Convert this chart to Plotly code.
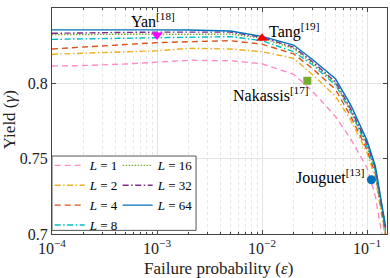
import math
import plotly.graph_objects as go

eps = [1e-4, 2e-4, 5e-4, 1e-3, 2e-3, 5e-3, 1e-2, 2e-2, 3e-2, 5e-2, 7e-2, 0.1, 0.12, 0.15]
y_L1  = [0.8115, 0.8118, 0.8128, 0.8143, 0.8153, 0.8150, 0.8130, 0.8060, 0.7950, 0.7780, 0.7630, 0.7440, 0.7250, 0.6850]
y_L2  = [0.8193, 0.8200, 0.8208, 0.8216, 0.8232, 0.8228, 0.8210, 0.8166, 0.8060, 0.7915, 0.7755, 0.7540, 0.7370, 0.6970]
y_L4  = [0.8228, 0.8240, 0.8255, 0.8270, 0.8276, 0.8283, 0.8260, 0.8195, 0.8100, 0.7960, 0.7780, 0.7560, 0.7400, 0.7000]
y_L8  = [0.8292, 0.8296, 0.8300, 0.8305, 0.8305, 0.8310, 0.8283, 0.8210, 0.8125, 0.7990, 0.7810, 0.7580, 0.7420, 0.7020]
y_L16 = [0.8323, 0.8325, 0.8326, 0.8327, 0.8325, 0.8327, 0.8300, 0.8230, 0.8135, 0.8000, 0.7820, 0.7590, 0.7430, 0.7030]
y_L32 = [0.8332, 0.8336, 0.8338, 0.8340, 0.8340, 0.8340, 0.8305, 0.8240, 0.8145, 0.8010, 0.7830, 0.7600, 0.7440, 0.7040]
y_L64 = [0.8355, 0.8356, 0.8356, 0.8355, 0.8354, 0.8347, 0.8312, 0.8254, 0.8160, 0.8030, 0.7856, 0.7620, 0.7450, 0.7050]

series = [
    ("L1", "<i>L</i> = 1", y_L1, "#FF8CC6", "6px,4px", "legend"),
    ("L2", "<i>L</i> = 2", y_L2, "#EDB120", "6px,2.5px,1.5px,2.5px", "legend"),
    ("L4", "<i>L</i> = 4", y_L4, "#D95319", "6px,4px", "legend"),
    ("L8", "<i>L</i> = 8", y_L8, "#00BFC4", "6px,2.5px,1.5px,2.5px", "legend"),
    ("L16", "<i>L</i> = 16", y_L16, "#77AC30", "1.5px,1.5px", "legend2"),
    ("L32", "<i>L</i> = 32", y_L32, "#7E2F8E", "6px,2.5px,1.5px,2.5px", "legend2"),
    ("L64", "<i>L</i> = 64", y_L64, "#0072BD", "solid", "legend2"),
]

refs_name = ["Yan", "Tang", "Nakassis", "Jouguet"]
refs_cite = ["[18]", "[19]", "[17]", "[13]"]
refs_x = [1e-3, 1e-2, 0.027, 0.11]
refs_y = [0.832, 0.830, 0.8017, 0.736]
refs_color = ["#FF00FF", "#FF0000", "#77AC30", "#0072BD"]
refs_symbol = ["triangle-down", "triangle-up", "square", "circle"]
refs_size = [10, 10, 8, 9]

FONT = "Liberation Serif"
fig = go.Figure()
for key, name, ys, col, dash, lg in series:
    fig.add_trace(go.Scatter(x=eps, y=ys, mode="lines", name=name,
                             line=dict(color=col, width=1.4, dash=dash),
                             legend=lg))

for i in range(4):
    fig.add_trace(go.Scatter(x=[refs_x[i]], y=[refs_y[i]], mode="markers",
                             marker=dict(color=refs_color[i], symbol=refs_symbol[i], size=refs_size[i],
                                         line=dict(width=0)),
                             showlegend=False))

ann_pos = [(-4, 15, "center", "middle"), (5, 8, "left", "middle"),
           (4, -13, "right", "middle"), (-5, 3, "right", "middle")]
for i in range(4):
    dx, dy, xa, ya = ann_pos[i]
    fig.add_annotation(x=math.log10(refs_x[i]), y=refs_y[i], xref="x", yref="y",
                       text=refs_name[i] + "<sup>" + refs_cite[i] + "</sup>",
                       showarrow=False, xanchor=xa, yanchor=ya, xshift=dx, yshift=dy,
                       font=dict(family=FONT, size=16, color="#000"))

major_x = [1e-4, 1e-3, 1e-2, 1e-1]
major_x_text = ["10<sup>−4</sup>", "10<sup>−3</sup>", "10<sup>−2</sup>", "10<sup>−1</sup>"]
minor_x = [k * 10.0 ** d for d in (-4, -3, -2, -1) for k in range(2, 10) if k * 10.0 ** d <= 0.155]

y_ticks = [0.7, 0.75, 0.8, 0.85]
y_text = ["0.7", "0.75", "0.8", "0.85"]

fig.update_xaxes(type="log", range=[-4, -0.81], tickmode="array", tickvals=major_x,
                 ticktext=major_x_text, ticks="inside", ticklen=4, tickcolor="#444",
                 showline=True, linecolor="#444", linewidth=1, mirror="ticks",
                 showgrid=True, gridcolor="#E3E3E3", gridwidth=1, zeroline=False,
                 automargin=False,
                 tickfont=dict(family=FONT, size=16, color="#222"),
                 minor=dict(tickmode="array", tickvals=minor_x, ticks="inside", ticklen=2,
                            tickcolor="#444", showgrid=True, gridcolor="#E6E6E6",
                            griddash="dot", gridwidth=1))
fig.update_yaxes(range=[0.7, 0.85], tickmode="array", tickvals=y_ticks, ticktext=y_text,
                 ticks="inside", ticklen=4, tickcolor="#444",
                 showline=True, linecolor="#444", linewidth=1, mirror="ticks",
                 showgrid=True, gridcolor="#E3E3E3", gridwidth=1, zeroline=False,
                 automargin=False,
                 tickfont=dict(family=FONT, size=16, color="#222"))

fig.add_annotation(x=0.496, y=-0.152, xref="paper", yref="paper", text="Failure probability (<i>ε</i>)",
                   showarrow=False, xanchor="center", yanchor="middle",
                   font=dict(family=FONT, size=17, color="#222"))
fig.add_annotation(x=-0.128, y=0.504, xref="paper", yref="paper", text="Yield (<i>γ</i>)",
                   showarrow=False, xanchor="center", yanchor="middle", textangle=-90,
                   font=dict(family=FONT, size=17, color="#222"))

fig.add_shape(type="rect", xref="paper", yref="paper", x0=0.0, x1=0.43, y0=0.016, y1=0.345,
              fillcolor="white", line=dict(color="#555", width=1), layer="above")

legfont = dict(family=FONT, size=13, color="#000")
fig.update_layout(
    width=390, height=278, autosize=False,
    margin=dict(l=52, r=3, t=8, b=44, autoexpand=False),
    paper_bgcolor="white", plot_bgcolor="white",
    legend=dict(x=-0.007, y=0.37, xanchor="left", yanchor="top", bgcolor="rgba(0,0,0,0)",
                font=legfont, itemwidth=30, tracegroupgap=0),
    legend2=dict(x=0.196, y=0.37, xanchor="left", yanchor="top", bgcolor="rgba(0,0,0,0)",
                 font=legfont, itemwidth=30, tracegroupgap=0),
)

fig.write_html("out.html", config={"displayModeBar": False},
               post_script="document.body.style.margin='0';document.body.style.overflow='hidden';")
